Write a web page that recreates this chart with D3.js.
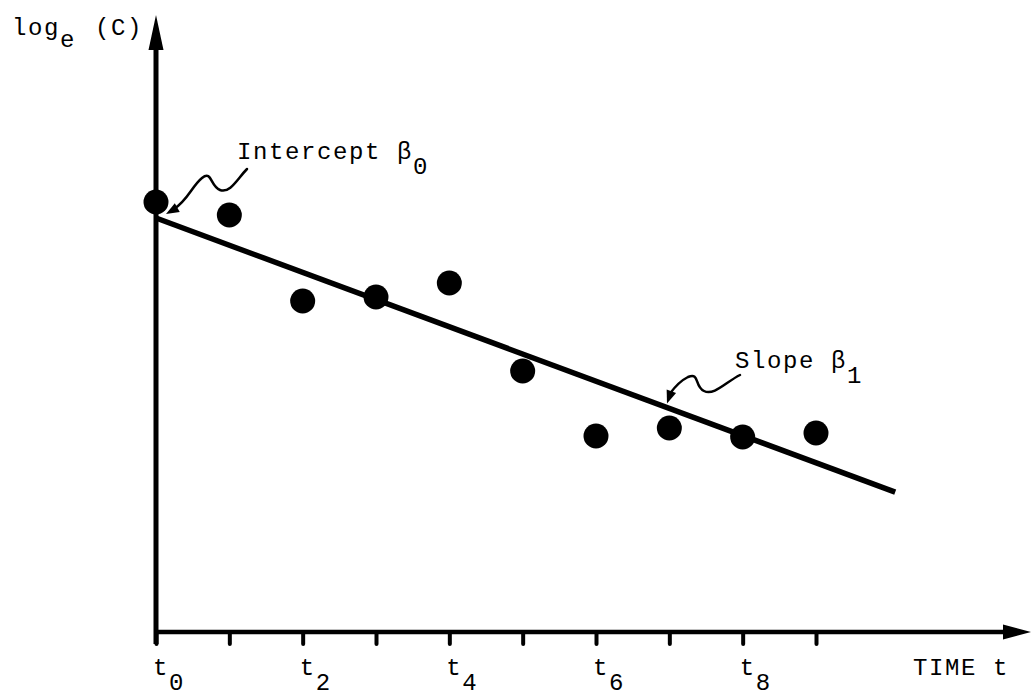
<!DOCTYPE html>
<html>
<head>
<meta charset="utf-8">
<script src="https://cdn.jsdelivr.net/npm/d3@7"></script>
<style>
    html, body { margin: 0; padding: 0; background: #fff; }
    svg { display: block; }
    .label {
        font-family: "Courier New", "Liberation Mono", monospace;
        font-size: 24px;
        letter-spacing: 1.6px;
        fill: #000;
    }
</style>
</head>
<body>
<div class="chart"></div>
<script>
// --- data
const timeSteps     = [0, 1, 2, 3, 4, 5, 6, 7, 8, 9];
const logConc       = [4.30, 4.17, 3.31, 3.35, 3.49, 2.61, 1.96, 2.04, 1.95, 1.99];
const labelledSteps = [0, 2, 4, 6, 8];
const tickSubs      = ["0", "2", "4", "6", "8"];
const fitIntercept  = 4.14;
const fitSlope      = -0.272;
const fitSpan       = [0, 10.08];

const width = 1031, height = 697;

// --- scales
const x = d3.scaleLinear().domain([0, 9]).range([156, 816]);
const y = d3.scaleLinear().domain([0, 6]).range([632, 32]);

const svg = d3.select(".chart").append("svg")
    .attr("width", width)
    .attr("height", height);

svg.append("rect")
    .attr("width", width)
    .attr("height", height)
    .attr("fill", "#fff");

const x0 = x(0), yBase = y(0);

// AXES
const axes = svg.append("g").attr("class", "axes");

axes.append("line")
    .attr("x1", x0).attr("y1", yBase + 12)
    .attr("x2", x0).attr("y2", 45)
    .attr("stroke", "#000")
    .attr("stroke-width", 5);

axes.append("polygon")
    .attr("points", [[x0, 15], [x0 - 7.5, 50], [x0 + 7.5, 50]].join(" "))
    .attr("fill", "#000");

axes.append("line")
    .attr("x1", x0).attr("y1", yBase)
    .attr("x2", width - 24).attr("y2", yBase)
    .attr("stroke", "#000")
    .attr("stroke-width", 4.5);

axes.append("polygon")
    .attr("points", [[width, yBase], [width - 28, yBase - 7.5], [width - 28, yBase + 7.5]].join(" "))
    .attr("fill", "#000");

// --- tick marks through the d3 axis, domain line drawn above
const xAxis = svg.append("g")
    .attr("transform", `translate(0,${yBase})`)
    .call(d3.axisBottom(x).tickValues(timeSteps).tickSize(12).tickFormat(""));

xAxis.select(".domain").remove();
xAxis.selectAll(".tick line")
    .attr("stroke", "#000")
    .attr("stroke-width", 4)
    .attr("stroke-linecap", "round");

// TICK LABELS  t with subscript
const tickText = svg.selectAll(".ticklabel")
    .data(labelledSteps)
    .enter().append("text")
    .attr("class", "label ticklabel")
    .attr("x", d => x(d) - 3)
    .attr("y", 675);

tickText.append("tspan").text("t");
tickText.append("tspan")
    .attr("dy", 15)
    .text((d, i) => tickSubs[i]);

svg.append("text")
    .attr("class", "label")
    .attr("x", 913)
    .attr("y", 675)
    .text("TIME t");

// --- y label
const yLabel = svg.append("text")
    .attr("class", "label")
    .attr("x", 12)
    .attr("y", 35);
yLabel.append("tspan").text("log");
yLabel.append("tspan").attr("dy", 12).text("e");
yLabel.append("tspan").attr("dy", -12).attr("dx", 19).text("(C)");

// FITTED LINE
const fitLine = d3.line()
    .x(d => x(d))
    .y(d => y(fitIntercept + fitSlope * d));

svg.append("path")
    .datum(fitSpan)
    .attr("d", fitLine)
    .attr("fill", "none")
    .attr("stroke", "#000")
    .attr("stroke-width", 5.5);

// OBSERVATIONS
svg.selectAll(".obs")
    .data(timeSteps)
    .enter().append("circle")
    .attr("class", "obs")
    .attr("cx", d => x(d))
    .attr("cy", (d, i) => y(logConc[i]))
    .attr("r", 12.5)
    .attr("fill", "#000");

// ANNOTATIONS  wavy arrows
function wavyArrow(pathD, tip, from) {
    svg.append("path")
        .attr("d", pathD)
        .attr("fill", "none")
        .attr("stroke", "#000")
        .attr("stroke-width", 2.5)
        .attr("stroke-linecap", "round");
    const ang = Math.atan2(tip[1] - from[1], tip[0] - from[0]);
    const len = 13, half = 5;
    const bx = tip[0] - len * Math.cos(ang), by = tip[1] - len * Math.sin(ang);
    svg.append("polygon")
        .attr("points", [
            tip,
            [bx + half * Math.sin(ang), by - half * Math.cos(ang)],
            [bx - half * Math.sin(ang), by + half * Math.cos(ang)]
        ].join(" "))
        .attr("fill", "#000");
}

// intercept arrow lands on the line at t0
const iTip = [x(0) + 10, y(fitIntercept) - 4];
wavyArrow(`M247,169 C238,178 230,194 220,190 C210,186 212,170 202,178 C192,186 188,200 ${iTip[0] + 8},${iTip[1] - 5}`,
    iTip, [iTip[0] + 14, iTip[1] - 8]);

// slope arrow lands on the line near t7
const sTip = [667, y(fitIntercept + fitSlope * x.invert(667)) - 4];
wavyArrow(`M740,375 C726,382 714,396 704,391 C694,386 700,372 688,377 C680,381 674,388 ${sTip[0] + 3},${sTip[1] - 10}`,
    sTip, [sTip[0] + 5, sTip[1] - 14]);

const iLabel = svg.append("text")
    .attr("class", "label")
    .attr("x", 237)
    .attr("y", 159);
iLabel.append("tspan").text("Intercept β");
iLabel.append("tspan").attr("dy", 15).text("0");

const sLabel = svg.append("text")
    .attr("class", "label")
    .attr("x", 735)
    .attr("y", 368);
sLabel.append("tspan").text("Slope β");
sLabel.append("tspan").attr("dy", 15).text("1");
</script>
</body>
</html>
